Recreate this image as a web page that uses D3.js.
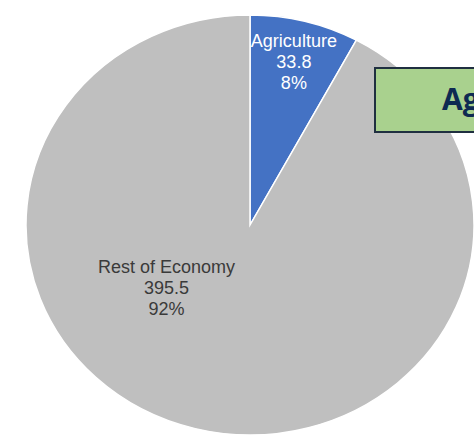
<!DOCTYPE html>
<html>
<head>
<meta charset="utf-8">
<script src="https://cdn.jsdelivr.net/npm/d3@7"></script>
<style>
  body { margin: 0; background: #fff; overflow: hidden; }
  svg { display: block; }
</style>
</head>
<body>
<div id="chart"></div>
<script>
// sector data
const categories = ["Agriculture", "Rest of Economy"];
const values = [33.8, 395.5];
const percentLabels = ["8%", "92%"];
const colors = ["#4472c4", "#bfbfbf"];
const labelColors = ["#ffffff", "#3a3a3a"];
const titleText = "Agriculture's Share of the Economy";

const width = 474, height = 441;
const cx = 250, cy = 225;
const radius = 210;
const xStretch = 224 / 210; // source picture is a bit wider than tall

const svg = d3
  .select("#chart")
  .append("svg")
  .attr("width", width)
  .attr("height", height);

const data = categories.map((c, i) => ({
  name: c,
  value: values[i],
  pct: percentLabels[i],
  color: colors[i],
  labelColor: labelColors[i],
}));

const pie = d3.pie().sort(null).value((d) => d.value);
const arcs = pie(data);

const arc = d3.arc().innerRadius(0).outerRadius(radius);

const pieG = svg
  .append("g")
  .attr("transform", `translate(${cx},${cy}) scale(${xStretch},1)`);

pieG
  .selectAll("path.slice")
  .data(arcs)
  .join("path")
  .attr("class", "slice")
  .attr("d", arc)
  .attr("fill", (d) => d.data.color)
  .attr("stroke", "#ffffff")
  .attr("stroke-width", 1.5)
  .attr("vector-effect", "non-scaling-stroke");

// label placement: first label on its own slice, the big slice label sits
// left of centre like Excel's best fit
const labelPos = (d, i) => {
  if (i === 0) {
    const la = d3.arc().innerRadius(radius * 0.8).outerRadius(radius * 0.8);
    const [x, y] = la.centroid(d);
    return [cx + x * xStretch, cy + y];
  }
  const ang = (231 * Math.PI) / 180;
  const r = radius * 0.48;
  return [cx + Math.sin(ang) * r * xStretch, cy - Math.cos(ang) * r];
};

const labels = svg
  .selectAll("text.label")
  .data(arcs)
  .join("text")
  .attr("class", "label")
  .attr("transform", (d, i) => {
    const [x, y] = labelPos(d, i);
    return `translate(${x},${y})`;
  })
  .attr("text-anchor", "middle")
  .style("font-family", "'Liberation Sans', Arial, sans-serif")
  .style("font-size", "18px")
  .attr("fill", (d) => d.data.labelColor);

labels.each(function (d) {
  const t = d3.select(this);
  const lines = [d.data.name, d3.format(".1f")(d.data.value), d.data.pct];
  lines.forEach((l, k) => {
    t.append("tspan")
      .attr("x", 0)
      .attr("y", (k - 1) * 21 + 6)
      .text(l);
  });
});

// title box (runs off the right edge in the source)
svg
  .append("rect")
  .attr("x", 375)
  .attr("y", 68)
  .attr("width", 130)
  .attr("height", 64)
  .attr("fill", "#a9d18e")
  .attr("stroke", "#1f2f40")
  .attr("stroke-width", 2);

svg
  .append("text")
  .attr("x", 442)
  .attr("y", 110)
  .style("font-family", "'Open Sans', 'Liberation Sans', sans-serif")
  .style("font-weight", "bold")
  .style("font-size", "30px")
  .attr("fill", "#0e2a52")
  .text(titleText);
</script>
</body>
</html>
